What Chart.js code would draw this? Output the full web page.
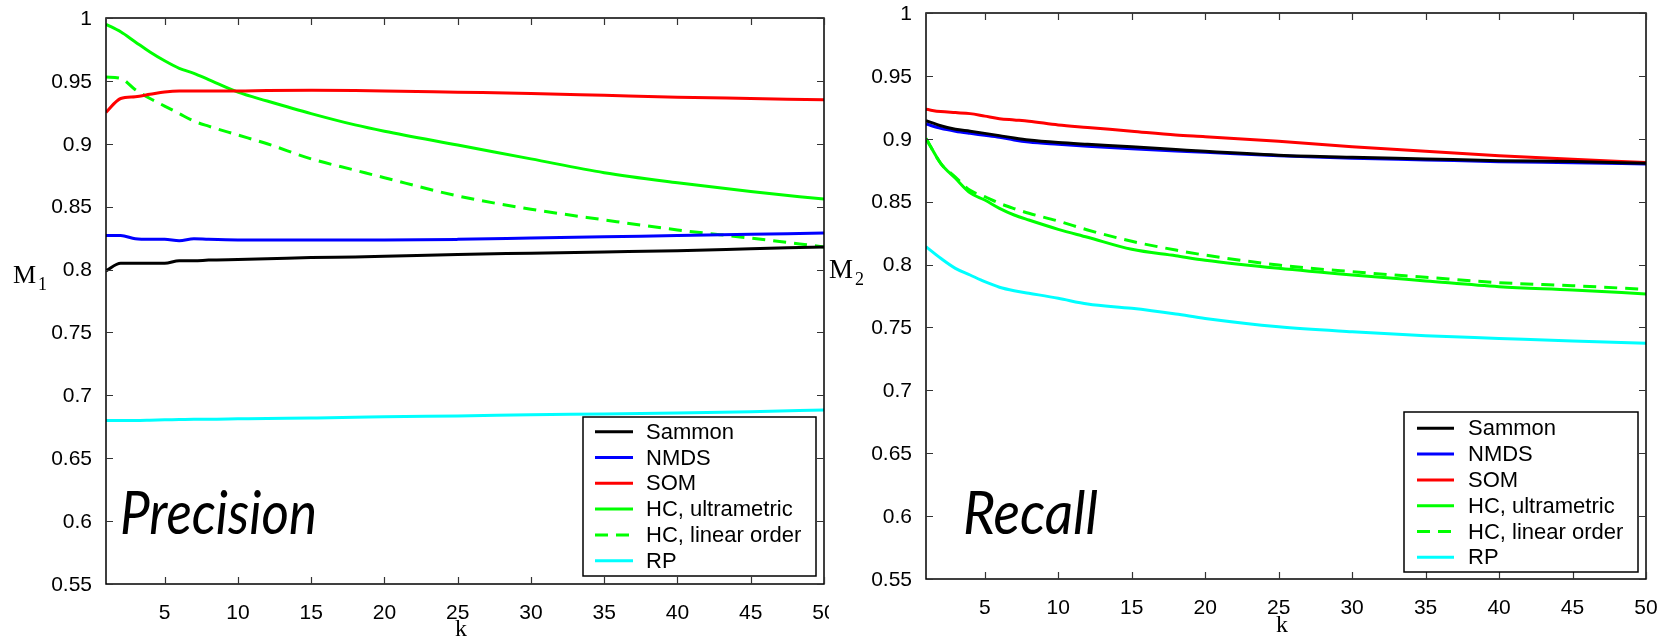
<!DOCTYPE html>
<html>
<head>
<meta charset="utf-8">
<script src="https://cdn.jsdelivr.net/npm/chart.js@4.4.0/dist/chart.umd.min.js"></script>
<style>
    html, body { margin: 0; padding: 0; background: #fff; }
    body { width: 1660px; height: 639px; position: relative; overflow: hidden; }
    .panel { position: absolute; top: 0; background: #fff; }
    #left-panel { left: 0; }
    #right-panel { left: 829px; }
</style>
</head>
<body>
<div class="panel" id="left-panel"><canvas id="precision-chart" width="829" height="639"></canvas></div>
<div class="panel" id="right-panel"><canvas id="recall-chart" width="831" height="639"></canvas></div>
<script>
const kValues = [1, 2, 3, 4, 5, 6, 7, 8, 10, 12, 15, 18, 20, 25, 30, 35, 40, 45, 50];
const xTickValues = [5, 10, 15, 20, 25, 30, 35, 40, 45, 50];
const yTickValues = [0.55, 0.6, 0.65, 0.7, 0.75, 0.8, 0.85, 0.9, 0.95, 1];
const seriesNames = ['Sammon', 'NMDS', 'SOM', 'HC, ultrametric', 'HC, linear order', 'RP'];

// Precision (M1)
const precSammon = [0.799, 0.805, 0.805, 0.805, 0.805, 0.807, 0.807, 0.8075, 0.808, 0.8085, 0.8095, 0.810, 0.8105, 0.812, 0.813, 0.814, 0.815, 0.8165, 0.818];
const precNMDS = [0.827, 0.827, 0.8245, 0.824, 0.824, 0.823, 0.8245, 0.824, 0.8235, 0.8235, 0.8235, 0.8235, 0.8235, 0.824, 0.825, 0.826, 0.827, 0.828, 0.829];
const precSOM = [0.925, 0.936, 0.9374, 0.9393, 0.9412, 0.942, 0.942, 0.942, 0.942, 0.9423, 0.9425, 0.9423, 0.942, 0.941, 0.940, 0.9385, 0.937, 0.936, 0.935];
const precHCUltra = [0.995, 0.989, 0.981, 0.973, 0.966, 0.960, 0.956, 0.951, 0.941, 0.934, 0.924, 0.915, 0.910, 0.899, 0.888, 0.877, 0.869, 0.862, 0.856];
const precHCLinear = [0.953, 0.952, 0.943, 0.936, 0.930, 0.924, 0.918, 0.914, 0.907, 0.900, 0.888, 0.879, 0.873, 0.8585, 0.848, 0.8395, 0.8315, 0.825, 0.818];
const precRP = [0.680, 0.680, 0.680, 0.6802, 0.6805, 0.6807, 0.681, 0.681, 0.6813, 0.6816, 0.682, 0.6825, 0.683, 0.6836, 0.6845, 0.6852, 0.686, 0.687, 0.6883];

// Recall (M2)
const recSammon = [0.9144, 0.9104, 0.9075, 0.906, 0.9043, 0.9025, 0.9006, 0.899, 0.897, 0.8956, 0.8937, 0.8915, 0.890, 0.887, 0.8853, 0.884, 0.8826, 0.882, 0.8805];
const recNMDS = [0.9117, 0.9083, 0.906, 0.9043, 0.9028, 0.9012, 0.899, 0.8974, 0.8956, 0.894, 0.892, 0.8902, 0.8892, 0.8865, 0.8845, 0.8832, 0.8818, 0.881, 0.880];
const recSOM = [0.9234, 0.9216, 0.9208, 0.920, 0.918, 0.916, 0.915, 0.914, 0.911, 0.909, 0.906, 0.903, 0.9017, 0.898, 0.8937, 0.890, 0.8866, 0.8837, 0.8812];
const recHCUltra = [0.9003, 0.8805, 0.8686, 0.857, 0.8513, 0.8447, 0.8394, 0.8354, 0.828, 0.8217, 0.8121, 0.807, 0.8035, 0.797, 0.7917, 0.787, 0.7824, 0.7798, 0.7766];
const recHCLinear = [0.9003, 0.8805, 0.8695, 0.859, 0.854, 0.8487, 0.8445, 0.8408, 0.8346, 0.8275, 0.8185, 0.8115, 0.8075, 0.7996, 0.7943, 0.7899, 0.7856, 0.7832, 0.7803];
const recRP = [0.8142, 0.805, 0.797, 0.7917, 0.7864, 0.782, 0.7792, 0.7772, 0.7732, 0.7686, 0.7652, 0.7607, 0.7572, 0.7506, 0.7466, 0.7434, 0.7413, 0.7392, 0.7374];

const lineColors = ['#000000', '#0000ff', '#ff0000', '#00ff00', '#00ff00', '#00ffff'];
const dashes = [[], [], [], [], [13, 8], []];

const tickFont = { family: '"Liberation Sans", Arial, sans-serif', size: 21 };

// MATLAB-style box with inward ticks on all four sides
const frameTicks = {
    id: 'frameTicks',
    afterDatasetsDraw(chart) {
        const { ctx, chartArea: a, scales: { x, y } } = chart;
        ctx.save();
        ctx.strokeStyle = '#000';
        ctx.lineWidth = 1.5;
        ctx.strokeRect(a.left, a.top, a.right - a.left, a.bottom - a.top);
        ctx.lineWidth = 1.2;
        ctx.strokeStyle = '#333';
        ctx.beginPath();
        x.ticks.forEach(t => {
            const px = Math.round(x.getPixelForValue(t.value)) + 0.5;
            ctx.moveTo(px, a.bottom); ctx.lineTo(px, a.bottom - 7);
            ctx.moveTo(px, a.top); ctx.lineTo(px, a.top + 7);
        });
        y.ticks.forEach(t => {
            const py = Math.round(y.getPixelForValue(t.value)) + 0.5;
            ctx.moveTo(a.left, py); ctx.lineTo(a.left + 7, py);
            ctx.moveTo(a.right, py); ctx.lineTo(a.right - 7, py);
        });
        ctx.stroke();
        ctx.restore();
    }
};

// boxed legend inside the plot, built from the datasets
const boxLegend = {
    id: 'boxLegend',
    afterDraw(chart, args, o) {
        const { ctx } = chart;
        ctx.save();
        ctx.fillStyle = '#fff';
        ctx.fillRect(o.left, o.top, o.width, o.height);
        ctx.strokeStyle = '#000';
        ctx.lineWidth = 1.5;
        ctx.strokeRect(o.left, o.top, o.width, o.height);
        ctx.font = '22px "Liberation Sans", Arial, sans-serif';
        ctx.textBaseline = 'middle';
        chart.data.datasets.forEach((ds, i) => {
            const cy = o.top + o.firstRow + i * o.rowHeight;
            ctx.strokeStyle = ds.borderColor;
            ctx.lineWidth = 3;
            ctx.setLineDash(ds.borderDash || []);
            ctx.beginPath();
            ctx.moveTo(o.lineX, cy);
            ctx.lineTo(o.lineX + o.lineLen, cy);
            ctx.stroke();
            ctx.setLineDash([]);
            ctx.fillStyle = '#000';
            ctx.fillText(ds.label, o.textX, cy + 1);
        });
        ctx.restore();
    }
};

// axis names (M with subscript, k) and the big italic caption
const panelText = {
    id: 'panelText',
    afterDraw(chart, args, o) {
        const { ctx, chartArea: a } = chart;
        ctx.save();
        ctx.fillStyle = '#000';
        ctx.textBaseline = 'alphabetic';
        ctx.font = o.nameSize + 'px "Liberation Serif", "Times New Roman", serif';
        ctx.fillText(o.name, o.nameX, o.nameY);
        const w = ctx.measureText(o.name).width;
        ctx.font = '18px "Liberation Serif", "Times New Roman", serif';
        ctx.fillText(o.sub, o.nameX + w + 2, o.nameY + 7);

        ctx.font = '24px "Liberation Serif", "Times New Roman", serif';
        ctx.textAlign = 'center';
        ctx.fillText('k', (a.left + a.right) / 2 - 4, o.kY);
        ctx.textAlign = 'left';

        ctx.font = 'italic 60px Lato, "Open Sans", sans-serif';
        const tw = ctx.measureText(o.caption).width;
        ctx.translate(o.captionX, o.captionY);
        ctx.scale(o.captionWidth / tw, 1);
        ctx.fillText(o.caption, 0, 0);
        ctx.restore();
    }
};

function makeDatasets(seriesList) {
    return seriesList.map((vals, i) => ({
        label: seriesNames[i],
        data: kValues.map((k, j) => ({ x: k, y: vals[j] })),
        borderColor: lineColors[i],
        backgroundColor: lineColors[i],
        borderDash: dashes[i],
        borderWidth: 3,
        pointRadius: 0,
        cubicInterpolationMode: 'monotone',
        fill: false,
    }));
}

function buildChart(canvasId, seriesList, layout) {
    const canvas = document.getElementById(canvasId);
    return new Chart(canvas.getContext('2d'), {
        type: 'line',
        data: { datasets: makeDatasets(seriesList) },
        options: {
            responsive: false,
            animation: false,
            layout: { autoPadding: false, padding: layout.padding },
            plugins: {
                legend: { display: false },
                tooltip: { enabled: false },
                boxLegend: layout.legend,
                panelText: layout.text,
            },
            scales: {
                x: {
                    type: 'linear',
                    min: 1,
                    max: 50,
                    grid: { display: false },
                    border: { display: false },
                    afterBuildTicks: s => { s.ticks = xTickValues.map(v => ({ value: v })); },
                    afterFit: s => { s.height = layout.xHeight; s.paddingLeft = 0; s.paddingRight = 0; },
                    ticks: { font: tickFont, color: '#000', padding: 9, maxRotation: 0, autoSkip: false },
                },
                y: {
                    type: 'linear',
                    min: 0.55,
                    max: 1,
                    grid: { display: false },
                    border: { display: false },
                    afterBuildTicks: s => { s.ticks = yTickValues.map(v => ({ value: v })); },
                    afterFit: s => { s.width = layout.yWidth; s.paddingTop = 0; s.paddingBottom = 0; },
                    ticks: {
                        font: tickFont,
                        color: '#000',
                        padding: 6,
                        labelOffset: 1,
                        autoSkip: false,
                        callback: v => String(+v.toFixed(2)),
                    },
                },
            },
        },
        plugins: [frameTicks, boxLegend, panelText],
    });
}

buildChart('precision-chart',
    [precSammon, precNMDS, precSOM, precHCUltra, precHCLinear, precRP],
    {
        padding: { left: 0, top: 18, right: 5, bottom: 0 },
        yWidth: 106,
        xHeight: 55,
        legend: { left: 583, top: 417, width: 233, height: 159, firstRow: 14.7, rowHeight: 25.8, lineX: 595, lineLen: 38, textX: 646 },
        text: { name: 'M', sub: '1', nameSize: 26, nameX: 13, nameY: 283, kY: 636, caption: 'Precision', captionX: 120, captionY: 534, captionWidth: 197 },
    });

buildChart('recall-chart',
    [recSammon, recNMDS, recSOM, recHCUltra, recHCLinear, recRP],
    {
        padding: { left: 0, top: 13, right: 14, bottom: 0 },
        yWidth: 97,
        xHeight: 60,
        legend: { left: 575, top: 412, width: 234, height: 160, firstRow: 16.3, rowHeight: 25.8, lineX: 588, lineLen: 37, textX: 639 },
        text: { name: 'M', sub: '2', nameSize: 27, nameX: 0, nameY: 278, kY: 632, caption: 'Recall', captionX: 134, captionY: 534, captionWidth: 135 },
    });
</script>
</body>
</html>
